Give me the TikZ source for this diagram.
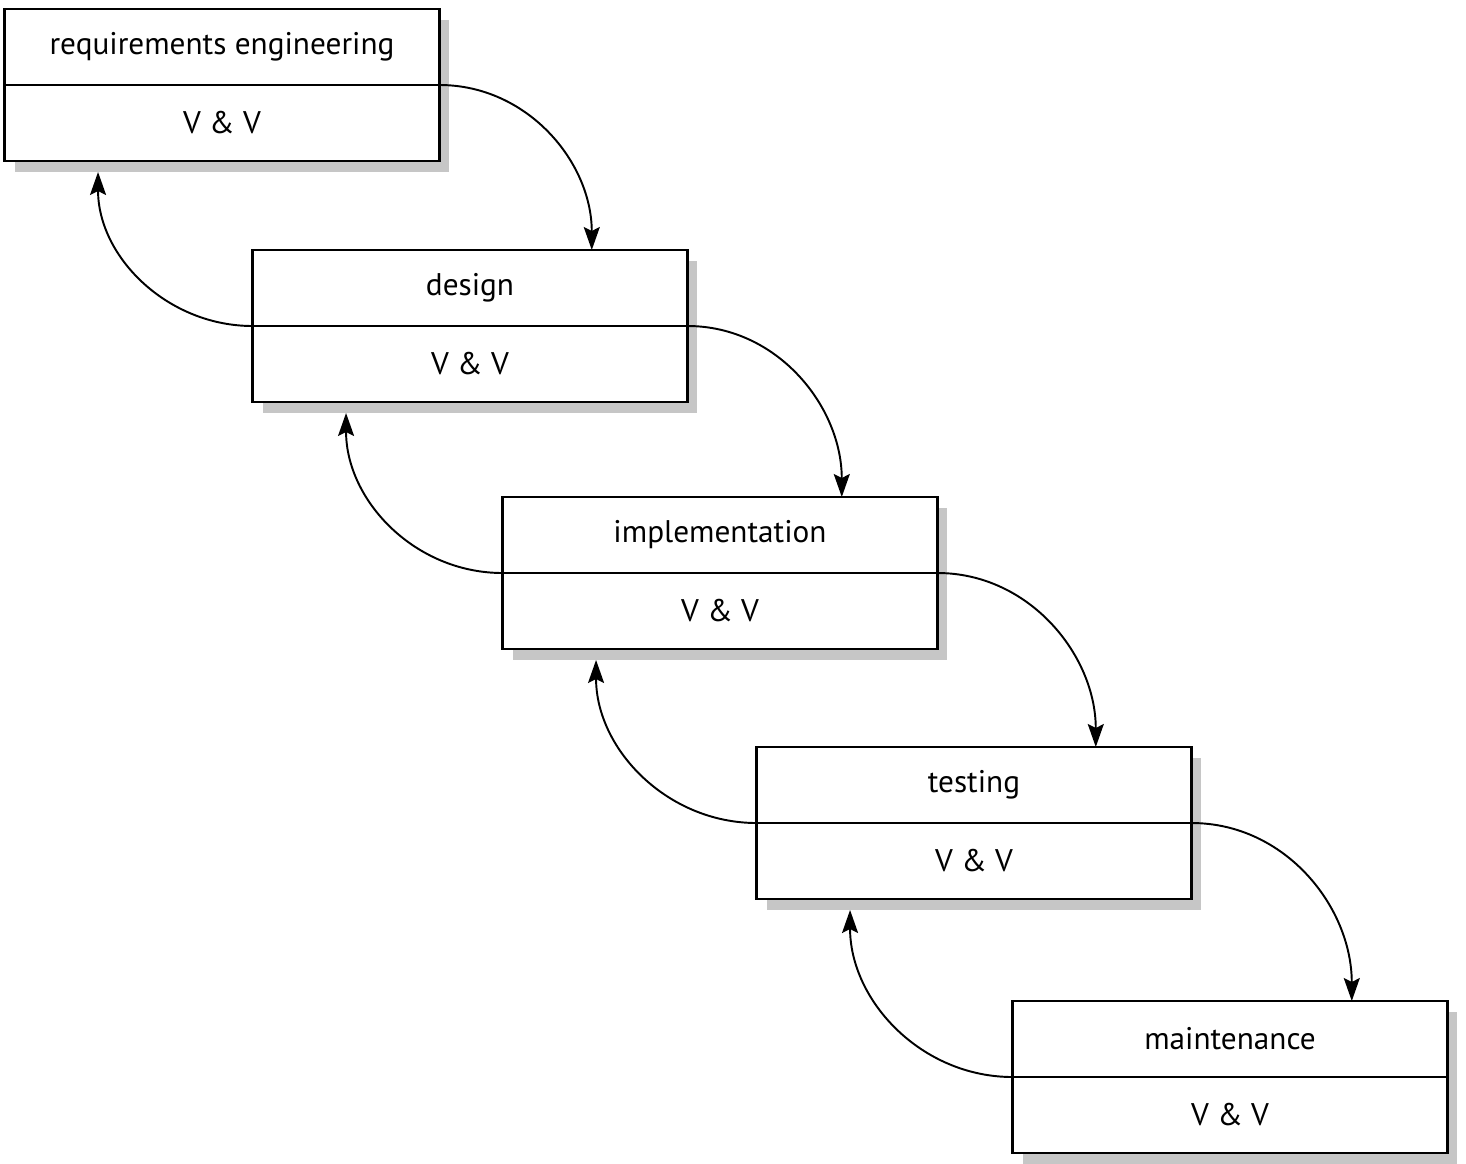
\documentclass[tikz,border=0pt]{standalone}
\usepackage{fontspec}
\setmainfont{PT Sans}
\usetikzlibrary{arrows.meta,backgrounds,calc}

\tikzset{
   phase/.style={
      draw,
      fill = white,
      line width = 1.3pt,
      minimum width = 8.7cm,
      minimum height = 1.52cm,
      inner sep = 0pt,
      outer sep = 0pt,
      font = \fontsize{17.8}{20}\selectfont
   },
   flow/.style={
      line width = 1.1pt,
      -{Stealth[length=0.46cm,width=0.32cm,inset=0.08cm]}
   }
}

\begin{document}
\begin{tikzpicture}[x=0.02cm,y=-0.02cm]
   \useasboundingbox (0,0) rectangle (1466,1163);

   \node[phase, anchor=south] (req) at (222,85) {requirements engineering};
   \node[phase, anchor=north] (req-vv) at (req.south) {V \& V};

   \node[phase, anchor=south] (des) at (470,326) {design};
   \node[phase, anchor=north] (des-vv) at (des.south) {V \& V};

   \node[phase, anchor=south] (imp) at (720,573) {implementation};
   \node[phase, anchor=north] (imp-vv) at (imp.south) {V \& V};

   \node[phase, anchor=south] (tst) at (974,823) {testing};
   \node[phase, anchor=north] (tst-vv) at (tst.south) {V \& V};

   \node[phase, anchor=south] (mnt) at (1230,1077) {maintenance};
   \node[phase, anchor=north] (mnt-vv) at (mnt.south) {V \& V};

   \begin{scope}[on background layer]
      \foreach \p in {req,des,imp,tst,mnt}
         \fill[gray!45] ([shift={(10,11)}]\p.north west) rectangle ([shift={(10,11)}]\p-vv.south east);
   \end{scope}

   \foreach \a/\b in {req/des,des/imp,imp/tst,tst/mnt} {
      \draw[flow] (\a-vv.north east) to[out=0,in=90] ($(\b.north west)!0.78!(\b.north east)$);
      \draw[flow] (\b-vv.north west) to[out=180,in=-90] ($(\a-vv.south west)!0.215!(\a-vv.south east)+(0,11)$);
   }
\end{tikzpicture}
\end{document}
